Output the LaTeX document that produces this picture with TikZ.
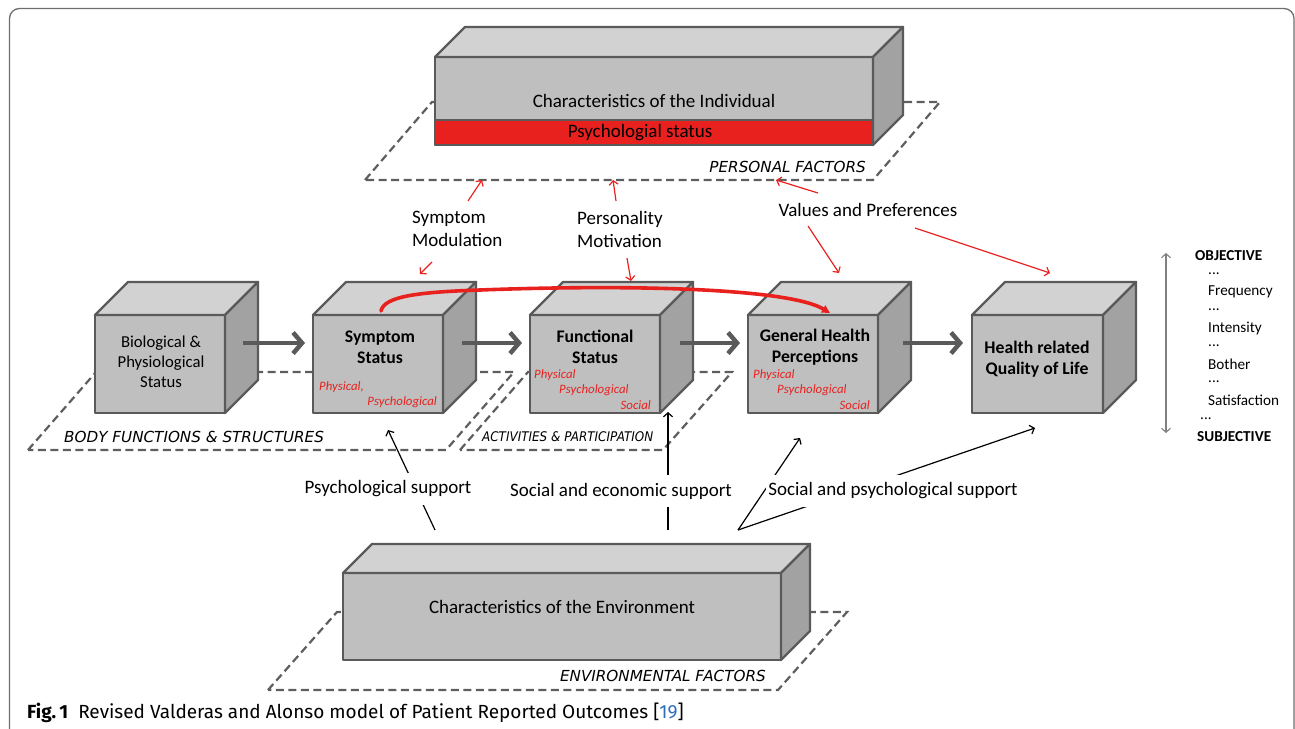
\documentclass[tikz,border=0pt]{standalone}
\usepackage{fontspec}
\setmainfont{Carlito}
\newfontfamily\capfont{Fira Sans}
\newfontfamily\planefont{DejaVu Sans}
\newfontfamily\planecond[FakeStretch=0.9]{DejaVu Sans}
\usetikzlibrary{arrows.meta,calc}
\definecolor{edgec}{HTML}{5A5A5A}
\definecolor{frontc}{HTML}{BFBFBF}
\definecolor{topc}{HTML}{D2D2D2}
\definecolor{sidec}{HTML}{A2A2A2}
\definecolor{redc}{HTML}{E8211F}
\definecolor{linkblue}{HTML}{2A6EBB}
\definecolor{framec}{HTML}{6E6E6E}
\definecolor{planec}{HTML}{5E5E5E}
\tikzset{
  cube edge/.style={draw=edgec, line width=2.4pt, line join=round},
  front face/.style={cube edge, fill=frontc, inner sep=0pt, outer sep=0pt},
  plane/.style={draw=planec, line width=2.2pt, dash pattern=on 8pt off 4.5pt},
  planelabel/.style={font=\planefont\itshape\fontsize{15.2}{17}\selectfont, text=black, inner sep=0pt},
  flow/.style={draw=edgec, line width=4.5pt, -{Straight Barb[length=9pt,width=21pt]}},
  redarrow/.style={draw=redc, line width=1.2pt, -{Straight Barb[length=4pt,width=9pt]}},
  blackarrow/.style={draw=black, line width=1.2pt, -{Straight Barb[length=4pt,width=9pt]}},
  lbl/.style={font=\fontsize{19}{23}\selectfont, inner sep=0pt},
  supp/.style={font=\fontsize{19}{22}\selectfont, fill=white, inner xsep=2pt, inner ysep=8pt},
  boxtxt/.style={font=\fontsize{16.7}{20}\selectfont, align=center, inner sep=0pt},
  boldtxt/.style={font=\bfseries\fontsize{17.7}{21}\selectfont, align=center, inner sep=0pt},
  redtxt/.style={font=\itshape\fontsize{12.8}{14}\selectfont, text=redc, inner sep=0pt},
  legend/.style={font=\fontsize{15.2}{17}\selectfont, inner sep=0pt, anchor=west},
  legendb/.style={font=\bfseries\fontsize{15.2}{17}\selectfont, inner sep=0pt, anchor=west},
}
\newcommand\cubebox[6]{%
  \node[front face, minimum width=#4pt, minimum height=#5pt] (#1) at (#2,#3) {};
  \draw[cube edge, fill=topc] (#1.north west) -- ++(#6,-#6) -- ++(#4,0) -- (#1.north east) -- cycle;
  \draw[cube edge, fill=sidec] (#1.north east) -- ++(#6,-#6) -- ++(0,#5) -- (#1.south east) -- cycle;
}
\begin{document}
\begin{tikzpicture}[x=1pt,y=-1pt]
\useasboundingbox (0,0) rectangle (1295,728);
% frame
\draw[framec, line width=1.3pt, rounded corners=10pt] (9.5,770) -- (9.5,8.5) -- (1294,8.5) -- (1294,770);

% planes
\draw[plane] (365,180) -- (432,102) -- (940,102) -- (873,180) -- cycle;
\draw[plane] (28,450) -- (96,372) -- (514,372) -- (446,450) -- cycle;
\draw[plane] (460,450) -- (528,372) -- (732,372) -- (663,450) -- cycle;
\draw[plane] (268,690) -- (337,612) -- (847,612) -- (778,690) -- cycle;
\node[planelabel, anchor=east] (pf) at (866,167) {PERSONAL FACTORS};
\node[planelabel, anchor=west] (bf) at (64,437) {BODY FUNCTIONS \& STRUCTURES};
\node[planelabel, anchor=west, font=\planecond\itshape\fontsize{13.3}{15}\selectfont] (ap) at (482,437) {ACTIVITIES \& PARTICIPATION};
\node[planelabel, anchor=east] (ef) at (766,676) {ENVIRONMENTAL FACTORS};

% individual
\cubebox{ind}{654}{101}{438}{88}{30}
\node[front face, fill=redc, minimum width=438pt, minimum height=25pt] (psy) at (654,132.5) {};
\node[lbl] (indt) at (654,101) {Characteristics of the Individual};
\node[lbl] (psyt) at (640,133) {Psychologial status};

% environment
\cubebox{env}{562}{616.5}{438}{87}{29}
\node[lbl] (envt) at (562,607) {Characteristics of the Environment};

% row of cubes
\cubebox{bio}{160}{364}{130}{98}{33}
\cubebox{sym}{378}{364}{130}{98}{33}
\cubebox{fun}{595}{364}{130}{98}{33}
\cubebox{ghp}{813}{364}{130}{98}{33}
\cubebox{hrq}{1037.5}{364}{131}{98}{33}

\node[boxtxt] (biot) at (161,362) {Biological \&\\Physiological\\Status};
\node[boldtxt] (symt) at (380,347) {Symptom\\Status};
\node[redtxt, anchor=west] (symr1) at (319,387) {Physical,};
\node[redtxt, anchor=east] (symr2) at (437,402) {Psychological};
\node[boldtxt] (funt) at (595,347) {Functional\\Status};
\node[redtxt, anchor=west] (funr1) at (534,375) {Physical};
\node[redtxt, anchor=west] (funr2) at (559,390) {Psychological};
\node[redtxt, anchor=east] (funr3) at (651,405) {Social};
\node[boldtxt] (ghpt) at (815,347) {General Health\\Perceptions};
\node[redtxt, anchor=west] (ghpr1) at (753,375) {Physical};
\node[redtxt, anchor=west] (ghpr2) at (777,390) {Psychological};
\node[redtxt, anchor=east] (ghpr3) at (870,405) {Social};
\node[boldtxt] (hrqt) at (1037,359) {Health related\\Quality of Life};

% flow arrows
\draw[flow] ($(bio.east)+(18,-21)$) -- ($(sym.west)+(-8,-21)$);
\draw[flow] ($(sym.east)+(19,-21)$) -- ($(fun.west)+(-8,-21)$);
\draw[flow] ($(fun.east)+(20,-21)$) -- ($(ghp.west)+(-8,-21)$);
\draw[flow] ($(ghp.east)+(25,-21)$) -- ($(hrq.west)+(-9,-21)$);

% red curve
\coordinate (cs) at (381,311);
\coordinate (ce) at (830,313);
\draw[redc, line width=3.6pt, line cap=round, -{Triangle[length=8pt,width=8pt]}] (cs) .. controls (384,296) and (420,292) .. (480,290) .. controls (640,284) and (790,289) .. (ce);

% personal factor labels and red arrows
\node[lbl, anchor=west, align=left] (smod) at (412,229) {Symptom\\Modulation};
\node[lbl, anchor=west, align=left] (pmot) at (577,229) {Personality\\Motivation};
\node[lbl] (vpref) at (868,210) {Values and Preferences};
\coordinate (s1a) at (468,201); \coordinate (s1b) at (482,180);
\coordinate (s2a) at (432,262); \coordinate (s2b) at (420,274);
\coordinate (p1a) at (616,201); \coordinate (p1b) at (613,180);
\coordinate (p2a) at (627,258); \coordinate (p2b) at (631,281);
\coordinate (v1a) at (818,193); \coordinate (v1b) at (776,180);
\coordinate (v2a) at (808,226); \coordinate (v2b) at (839,273);
\coordinate (v3a) at (915,228); \coordinate (v3b) at (1050,273);
\draw[redarrow] (s1a) -- (s1b);
\draw[redarrow] (s2a) -- (s2b);
\draw[redarrow] (p1a) -- (p1b);
\draw[redarrow] (p2a) -- (p2b);
\draw[redarrow] (v1a) -- (v1b);
\draw[redarrow] (v2a) -- (v2b);
\draw[redarrow] (v3a) -- (v3b);

% environment support arrows
\coordinate (e1) at (435,530); \coordinate (t1) at (388,430);
\coordinate (e2) at (668,530); \coordinate (t2) at (668,412);
\coordinate (e3) at (738,530); \coordinate (t3) at (800,438); \coordinate (t4) at (1035,428);
\draw[blackarrow] (e1) -- (t1);
\draw[blackarrow] (e2) -- (t2);
\draw[blackarrow] (e3) -- (t3);
\draw[blackarrow] (e3) -- (t4);
\node[supp] (psup) at (388,489) {Psychological support};
\node[supp] (sesup) at (621,491) {Social and economic support};
\node[supp] (spsup) at (893,491) {Social and psychological support};

% legend
\coordinate (la) at (1166,253); \coordinate (lb) at (1166,433);
\draw[draw=gray, line width=1.1pt, {Straight Barb[length=4pt,width=9pt]}-{Straight Barb[length=4pt,width=9pt]}] (la) -- (lb);
\node[legendb] (obj) at (1195,256) {OBJECTIVE};
\node[legend] (d1) at (1208,274) {...};
\node[legend] (fr) at (1208,292) {Frequency};
\node[legend] (d2) at (1208,310) {...};
\node[legend] (in) at (1208,328) {Intensity};
\node[legend] (d3) at (1208,346) {...};
\node[legend] (bo) at (1208,364) {Bother};
\node[legend] (d4) at (1208,382) {...};
\node[legend] (sa) at (1208,400) {Satisfaction};
\node[legend] (d5) at (1200,419) {...};
\node[legendb] (sub) at (1197,437) {SUBJECTIVE};

% caption
\node[anchor=base west, inner sep=0pt, font=\capfont\fontsize{19}{22}\selectfont] (cap) at (27,718) {\textbf{Fig.\,1}\hspace{10pt}Revised Valderas and Alonso model of Patient Reported Outcomes [\textcolor{linkblue}{19}]};
\end{tikzpicture}
\end{document}
